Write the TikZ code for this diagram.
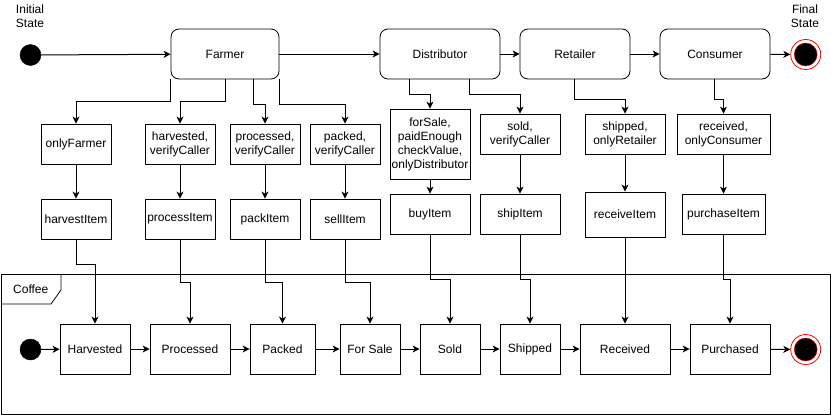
\documentclass[tikz,border=0pt]{standalone}
\usepackage{fontspec}
\setmainfont{Liberation Sans}
\usetikzlibrary{arrows.meta,calc}
\begin{document}
\begin{tikzpicture}[x=1pt,y=-1pt,
  font=\fontsize{12}{14}\selectfont,
  arr/.style={draw=black,line width=1pt,-{Stealth[length=7pt,width=7pt,inset=2pt]}},
  actor/.style={draw=black,line width=0.8pt,rounded corners=8pt,minimum width=108pt,minimum height=50pt,inner sep=0pt,align=center},
  gbox/.style={draw=black,line width=0.8pt,minimum width=70pt,minimum height=40pt,inner sep=0pt,align=center},
  stbox/.style={draw=black,line width=0.8pt,minimum height=50pt,inner sep=0pt,align=center},
  startdot/.style={circle,fill=black,draw=black,minimum size=21pt,inner sep=0pt},
  enddot/.style={circle,draw=red,line width=0.8pt,fill=white,minimum size=30pt,inner sep=0pt},
  lbl/.style={align=center,inner sep=0pt}
]
\useasboundingbox (0,0) rectangle (831,415);
\fill[white] (0,0) rectangle (831,415);

% top row
\node[lbl] (initlbl) at (30,16) {Initial\\State};
\node[startdot] (init) at (30.5,55) {};
\node[actor] (farmer) at (225,54) {Farmer};
\node[actor,minimum width=120pt] (dist) at (440,54) {Distributor};
\node[actor,minimum width=110pt] (ret) at (575,54) {Retailer};
\node[actor,minimum width=110pt] (con) at (715,54) {Consumer};
\node[enddot] (final) at (805.7,54.5) {};
\fill[black] (final.center) circle (11.5);
\draw[red,line width=0.4pt] (final.center) circle (11.5);
\node[lbl] (finallbl) at (805,16) {Final\\State};

\draw[arr] (init) -- (farmer);
\draw[arr] (farmer) -- (dist);
\draw[arr] (dist) -- (ret);
\draw[arr] (ret) -- (con);
\draw[arr] (con) -- (final);

% guard row
\node[gbox] (of) at (76,144) {onlyFarmer};
\node[gbox] (hv) at (180,144) {harvested,\\verifyCaller};
\node[gbox] (pr) at (265,144) {processed,\\verifyCaller};
\node[gbox] (pk) at (345,144) {packed,\\verifyCaller};
\node[gbox,minimum width=80pt,minimum height=70pt] (fs) at (430,144) {forSale,\\paidEnough\\checkValue,\\onlyDistributor};
\node[gbox,minimum width=80pt] (sd) at (520,134) {sold,\\verifyCaller};
\node[gbox,minimum width=80pt] (sh) at (625,134) {shipped,\\onlyRetailer};
\node[gbox,minimum width=93pt] (rc) at (723.5,134) {received,\\onlyConsumer};

\draw[arr] (farmer.south west) -- ++(0,22) -| (of);
\draw[arr] ([xshift=55pt]farmer.south west) -- ++(0,22) -| (hv);
\draw[arr] ([xshift=83pt]farmer.south west) -- ++(0,25) -| (pr);
\draw[arr] (farmer.south east) -- ++(0,25) -| (pk);
\draw[arr] ([xshift=30pt]dist.south west) -- ++(0,15) -| (fs);
\draw[arr] ([xshift=90pt]dist.south west) -- ++(0,15) -| (sd);
\draw[arr] ([xshift=55pt]ret.south west) -- ++(0,20) -| (sh);
\draw[arr] ([xshift=55pt]con.south west) -- ++(0,20) -| (rc);

% action row
\node[gbox] (hi) at (76,219) {harvestItem};
\node[gbox] (pi) at (180,219) {processItem};
\node[gbox] (ki) at (265,219) {packItem};
\node[gbox] (si) at (345,219) {sellItem};
\node[gbox,minimum width=80pt] (bi) at (430,214) {buyItem};
\node[gbox,minimum width=80pt] (hpi) at (520,214) {shipItem};
\node[gbox,minimum width=80pt,minimum height=45pt] (ri) at (625,214.5) {receiveItem};
\node[gbox,minimum width=83pt] (pui) at (723.5,214) {purchaseItem};

\draw[arr] (of) -- (hi);
\draw[arr] (hv) -- (pi);
\draw[arr] (pr) -- (ki);
\draw[arr] (pk) -- (si);
\draw[arr] (fs) -- (bi);
\draw[arr] (sd) -- (hpi);
\draw[arr] (sh) -- (ri);
\draw[arr] (rc) -- (pui);

% frame
\draw[line width=0.8pt] (1,274) rectangle (830,414);
\draw[line width=0.8pt] (1,304) -- (51,304) -- (61,290) -- (61,274);
\node[anchor=west,inner sep=0pt] (framelbl) at (13,289) {Coffee};

% states
\node[startdot] (s0) at (30.5,349.5) {};
\node[stbox,minimum width=70pt] (sH) at (95,349) {Harvested};
\node[stbox,minimum width=80pt] (sP) at (190,349) {Processed};
\node[stbox,minimum width=65pt] (sK) at (282.5,349) {Packed};
\node[stbox,minimum width=60pt] (sF) at (370,349) {For Sale};
\node[stbox,minimum width=60pt] (sS) at (450,349) {Sold};
\node[stbox,minimum width=60pt] (sSh) at (530,349) {Shipped};
\node[stbox,minimum width=90pt] (sR) at (625,349) {Received};
\node[stbox,minimum width=80pt] (sPu) at (730,349) {Purchased};
\node[enddot] (s9) at (805.7,349.5) {};
\fill[black] (s9.center) circle (11.5);
\draw[red,line width=0.4pt] (s9.center) circle (11.5);

\draw[arr] (s0) -- (sH);
\draw[arr] (sH) -- (sP);
\draw[arr] (sP) -- (sK);
\draw[arr] (sK) -- (sF);
\draw[arr] (sF) -- (sS);
\draw[arr] (sS) -- (sSh);
\draw[arr] (sSh) -- (sR);
\draw[arr] (sR) -- (sPu);
\draw[arr] (sPu) -- (s9);

% action -> state
\draw[arr] (hi.south) -- ++(0,25) -| (sH);
\draw[arr] (pi.south) -- ++(0,43) -| (sP);
\draw[arr] (ki.south) -- ++(0,43) -| (sK);
\draw[arr] (si.south) -- ++(0,43) -| (sF);
\draw[arr] (bi.south) -- ++(0,45) -| (sS);
\draw[arr] (hpi.south) -- ++(0,45) -| (sSh);
\draw[arr] (ri) -- (sR);
\draw[arr] (pui.south) -- ++(0,45) -| (sPu);
\end{tikzpicture}
\end{document}
